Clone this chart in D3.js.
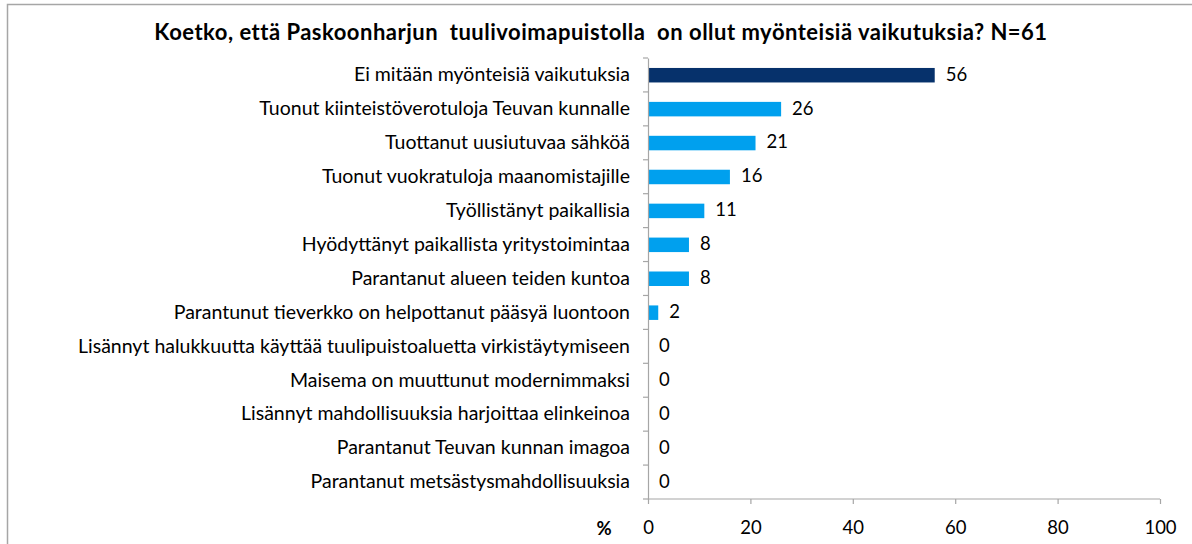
<!DOCTYPE html>
<html><head><meta charset="utf-8">
<script src="https://cdn.jsdelivr.net/npm/d3@7"></script>
<style>
html,body{margin:0;padding:0;background:#fff;}
svg{display:block;}
</style></head>
<body>
<svg id="chart" width="1192" height="544"></svg>
<script>
const title = "Koetko, että Paskoonharjun  tuulivoimapuistolla  on ollut myönteisiä vaikutuksia? N=61";
const categories = [
  "Ei mitään myönteisiä vaikutuksia",
  "Tuonut kiinteistöverotuloja Teuvan kunnalle",
  "Tuottanut uusiutuvaa sähköä",
  "Tuonut vuokratuloja maanomistajille",
  "Työllistänyt paikallisia",
  "Hyödyttänyt paikallista yritystoimintaa",
  "Parantanut alueen teiden kuntoa",
  "Parantunut tieverkko on helpottanut pääsyä luontoon",
  "Lisännyt halukkuutta käyttää tuulipuistoaluetta virkistäytymiseen",
  "Maisema on muuttunut modernimmaksi",
  "Lisännyt mahdollisuuksia harjoittaa elinkeinoa",
  "Parantanut Teuvan kunnan imagoa",
  "Parantanut metsästysmahdollisuuksia"
];
const values = [56, 26, 21, 16, 11, 8, 8, 2, 0, 0, 0, 0, 0];
const xTicks = [0, 20, 40, 60, 80, 100];
const axisUnit = "%";

const font = "Lato, 'Open Sans', sans-serif";
const svg = d3.select("#chart");

// frame
svg.append("rect").attr("x", 7.5).attr("y", 4.5).attr("width", 1200).attr("height", 560)
  .attr("fill", "none").attr("stroke", "#a6a6a6").attr("stroke-width", 1.5);

const x = d3.scaleLinear().domain([0, 100]).range([648, 1160]);
const yb = d3.scaleBand().domain(categories).range([58, 499]);

svg.append("text").attr("x", 601).attr("y", 40).attr("text-anchor", "middle")
  .style("white-space", "pre").attr("letter-spacing", 0.5)
  .attr("font-family", font).attr("font-weight", "bold").attr("font-size", 22)
  .attr("fill", "#000").text(title);

// bars
svg.append("g").selectAll("rect").data(values).join("rect")
  .attr("x", x(0)).attr("y", (d, i) => yb(categories[i]) + yb.bandwidth() / 2 - 7)
  .attr("height", 14.5)
  .attr("width", d => x(d) - x(0))
  .attr("fill", (d, i) => i === 0 ? "#06316b" : "#00a0ee");

// value labels
svg.append("g").selectAll("text").data(values).join("text")
  .attr("x", d => x(d) + 11).attr("y", (d, i) => yb(categories[i]) + yb.bandwidth() / 2 + 1)
  .attr("dominant-baseline", "middle")
  .attr("font-family", font).attr("font-size", 18.5).attr("fill", "#000")
  .text(d => d);

// y axis
const yAxis = d3.axisLeft(yb).tickSize(0).tickPadding(18);
const gy = svg.append("g").attr("transform", `translate(${x(0)},0)`).call(yAxis);
gy.select(".domain").attr("stroke", "#a6a6a6").attr("stroke-width", 1.2);
gy.selectAll(".tick text").attr("font-family", font).attr("font-size", 19.5).attr("fill", "#000").attr("dy", "0.32em");
// boundary ticks
const bounds = categories.map(c => yb(c)).concat([499]);
svg.append("g").selectAll("line").data(bounds).join("line")
  .attr("x1", x(0) - 5).attr("x2", x(0)).attr("y1", d => d).attr("y2", d => d)
  .attr("stroke", "#a6a6a6").attr("stroke-width", 1.2);

// x axis
const xAxis = d3.axisBottom(x).tickValues(xTicks).tickSize(5).tickPadding(17);
const gx = svg.append("g").attr("transform", `translate(0,499)`).call(xAxis);
gx.select(".domain").attr("stroke", "#a6a6a6").attr("stroke-width", 1.2).attr("d", `M${x(0)},0H${x(100)}`);
gx.selectAll(".tick line").attr("stroke", "#a6a6a6").attr("stroke-width", 1.2);
gx.selectAll(".tick text").attr("font-family", font).attr("font-size", 18.5).attr("fill", "#000");

svg.append("text").attr("x", 604).attr("y", 535).attr("text-anchor", "middle")
  .attr("font-family", font).attr("font-weight", "bold").attr("font-size", 18.5).text(axisUnit);
</script>
</body></html>
